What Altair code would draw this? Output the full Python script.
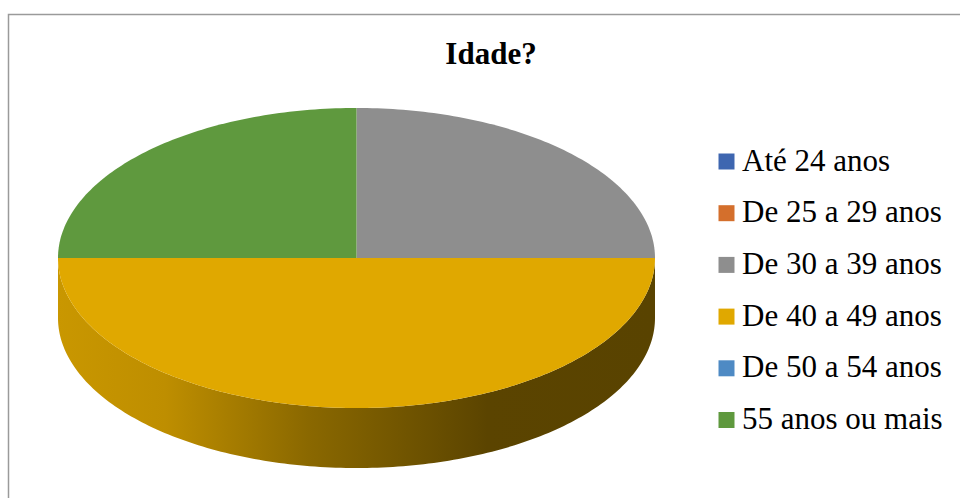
import numpy as np
import pandas as pd
import altair as alt

# ---- data ----
categories = ["Até 24 anos", "De 25 a 29 anos", "De 30 a 39 anos",
              "De 40 a 49 anos", "De 50 a 54 anos", "55 anos ou mais"]
values = [0, 0, 25, 50, 0, 25]
colors = ["#3E66B0", "#D46F2C", "#8E8E8E", "#E0A800", "#4E8AC4", "#5F993E"]
title_text = "Idade?"

# ---- layout (pixels) ----
W, H = 960, 498
CX, CY, A, B, DEPTH = 356.5, 258.0, 298.5, 150.0, 60.0
SERIF = "Times New Roman, Liberation Serif, serif"


def ell(theta_deg, dy=0.0):
    t = np.radians(theta_deg)
    return CX + A * np.sin(t), CY - B * np.cos(t) + dy


def shade(hexcol, f):
    h = hexcol.lstrip("#")
    r, g, b = (int(h[i:i + 2], 16) for i in (0, 2, 4))
    return "#{:02x}{:02x}{:02x}".format(int(r * f), int(g * f), int(b * f))


total = float(sum(values))
top_rows, side_parts = [], []
start = 0.0
for cat, v, col in zip(categories, values, colors):
    if v <= 0:
        continue
    t0, t1 = start, start + 360.0 * v / total
    start = t1
    n = max(2, int(abs(t1 - t0)) + 1)
    angs = np.linspace(t0, t1, n)
    pts = [(CX, CY)] + [ell(a) for a in angs] + [(CX, CY)]
    for k, (px, py) in enumerate(pts):
        top_rows.append({"x": px, "y": py, "cat": cat, "ord": k})
    lo, hi = max(t0, 90.0), min(t1, 270.0)
    if hi > lo:
        m = max(2, int(hi - lo) + 1)
        sa = np.linspace(lo, hi, m)
        spts = [ell(a) for a in sa] + [ell(a, DEPTH) for a in sa[::-1]]
        spts.append(spts[0])
        rows = [{"x": px, "y": py, "cat": cat, "ord": k} for k, (px, py) in enumerate(spts)]
        side_parts.append((pd.DataFrame(rows), col))

top_df = pd.DataFrame(top_rows)

xs = alt.Scale(domain=[0, W], nice=False, zero=False)
ys = alt.Scale(domain=[0, H], nice=False, zero=False, reverse=True)
cscale = alt.Scale(domain=categories, range=colors)

layers = []

# chart-area border
layers.append(
    alt.Chart(pd.DataFrame({"d": [0]})).mark_rect(
        fillOpacity=0, stroke="#9a9a9a", strokeWidth=1.5
    ).encode(x=alt.value(8.5), x2=alt.value(1200), y=alt.value(14.5), y2=alt.value(800))
)

# side walls
for sdf, col in side_parts:
    grad = alt.Gradient(
        gradient="linear", x1=0, x2=1, y1=0, y2=0,
        stops=[
            alt.GradientStop(offset=0.0, color=shade(col, 0.90)),
            alt.GradientStop(offset=0.18, color=shade(col, 0.85)),
            alt.GradientStop(offset=0.42, color=shade(col, 0.62)),
            alt.GradientStop(offset=0.72, color=shade(col, 0.41)),
            alt.GradientStop(offset=1.0, color=shade(col, 0.40)),
        ],
    )
    layers.append(
        alt.Chart(sdf).mark_line(fill=grad, strokeWidth=0).encode(
            x=alt.X("x:Q", scale=xs, axis=None),
            y=alt.Y("y:Q", scale=ys, axis=None),
            order="ord:Q",
        )
    )

# top face
layers.append(
    alt.Chart(top_df).mark_line(strokeWidth=0).encode(
        x=alt.X("x:Q", scale=xs, axis=None),
        y=alt.Y("y:Q", scale=ys, axis=None),
        order="ord:Q",
        fill=alt.Fill(
            "cat:N", scale=cscale,
            legend=alt.Legend(
                orient="none", legendX=711, legendY=146, title=None,
                labelFont=SERIF, labelFontSize=31, labelColor="black",
                labelOffset=0,
            ),
        ),
    )
)

# title
layers.append(
    alt.Chart(pd.DataFrame({"t": [title_text]})).mark_text(
        font="Liberation Serif", fontSize=31, fontWeight="bold", color="black",
        align="center", baseline="alphabetic",
    ).encode(text="t:N", x=alt.value(491), y=alt.value(64))
)

chart = alt.layer(*layers).properties(
    width=W, height=H, padding=0, autosize=alt.AutoSizeParams(type="none")
).configure_view(stroke=None).configure_legend(
    symbolType="square", symbolSize=256, symbolStrokeWidth=0,
    labelFont=SERIF, labelFontSize=31,
    labelColor="black", labelOffset=0, rowPadding=19.7, padding=0, labelLimit=0,
)

chart.save("out.html", embed_options={"renderer": "svg", "actions": False})
